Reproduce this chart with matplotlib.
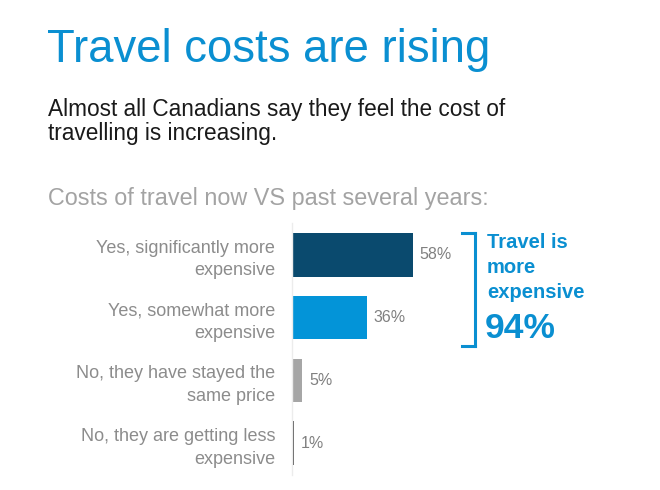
import matplotlib
matplotlib.use("Agg")
import matplotlib.pyplot as plt
from matplotlib.lines import Line2D

plt.rcParams['font.family'] = ['Liberation Sans', 'DejaVu Sans']

categories = ["Yes, significantly more\nexpensive",
              "Yes, somewhat more\nexpensive",
              "No, they have stayed the\nsame price",
              "No, they are getting less\nexpensive"]
values = [58, 36, 5, 1]
value_labels = ["58%", "36%", "5%", "1%"]
bar_colors = ["#0a4a6e", "#0394d8", "#a6a6a6", "#595959"]
total_label = "94%"

W, H = 660, 490
fig = plt.figure(figsize=(6.6, 4.9), dpi=100)
fig.patch.set_facecolor("white")

def fx(x):
    return x / W

def fy(y):
    return 1 - y / H

blue = "#0a8fd1"
# Titles
fig.text(fx(47), fy(62), "Travel costs are rising", color=blue, fontsize=32.8,
         ha="left", va="baseline")
fig.text(fx(48), fy(140), "Almost all Canadians say they feel the cost of\ntravelling is increasing.",
         color="#1a1a1a", fontsize=16.3, ha="left", va="baseline", linespacing=1.05)
fig.text(fx(48), fy(205), "Costs of travel now VS past several years:", color="#a3a3a3",
         fontsize=16.8, ha="left", va="baseline")

# Axes: x 292 -> 500.5 (0..100), y 223.5 -> 474.5
ax_left, ax_right = 292, 292 + 100 * 2.085
ax_top, ax_bot = 223.5, 474.5
ax = fig.add_axes([fx(ax_left), fy(ax_bot), fx(ax_right) - fx(ax_left), (ax_bot - ax_top) / H])
ypos = list(range(len(values)))
ax.barh(ypos, values, height=0.69, color=bar_colors)
ax.set_xlim(0, 100)
ax.set_ylim(len(values) - 0.5, -0.5)
for s in ["top", "right", "bottom"]:
    ax.spines[s].set_visible(False)
ax.spines["left"].set_color("#ececec")
ax.spines["left"].set_linewidth(1.0)
ax.set_xticks([])
ax.set_yticks(ypos)
ax.set_yticklabels(categories, fontsize=13, color="#8c8c8c", linespacing=1.42)
ax.tick_params(axis="y", length=0, pad=12)
ax.patch.set_alpha(0)

for y, v, lab in zip(ypos, values, value_labels):
    ax.text(v + 3.3, y, lab, color="#808080", fontsize=11.5, ha="left", va="center")

# Bracket
bx = fx(475)
lw = 2.2
fig.add_artist(Line2D([bx, bx], [fy(233), fy(346)], color=blue, lw=lw, transform=fig.transFigure))
fig.add_artist(Line2D([fx(462), bx], [fy(233), fy(233)], color=blue, lw=lw, transform=fig.transFigure))
fig.add_artist(Line2D([fx(462), bx], [fy(346), fy(346)], color=blue, lw=lw, transform=fig.transFigure))

fig.text(fx(487), fy(248), "Travel is", color=blue, fontsize=14.5, fontweight="bold",
         ha="left", va="baseline")
fig.text(fx(487), fy(273), "more", color=blue, fontsize=14.5, fontweight="bold",
         ha="left", va="baseline")
fig.text(fx(487), fy(298), "expensive", color=blue, fontsize=14.5, fontweight="bold",
         ha="left", va="baseline")
fig.text(fx(485), fy(338), total_label, color=blue, fontsize=25.5, fontweight="bold",
         ha="left", va="baseline")

fig.savefig("out.png", dpi=100, facecolor="white")
